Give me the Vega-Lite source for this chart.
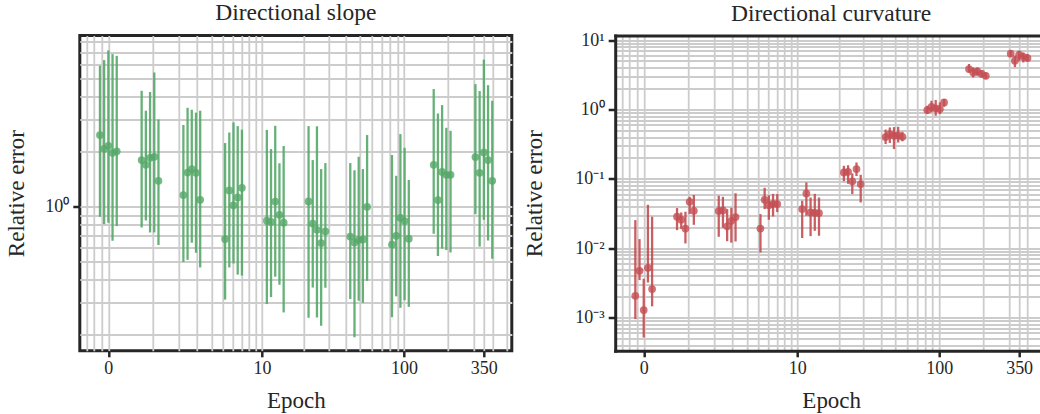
{
  "$schema": "https://vega.github.io/schema/vega-lite/v6.json",
  "background": "white",
  "padding": {"left": 3.8, "top": -1.5, "right": 0, "bottom": 0},
  "spacing": 103.4,
  "bounds": "flush",
  "datasets": {
    "epochs": [{"e": 0}, {"e": 0.918}, {"e": 2.678}, {"e": 6.054}, {"e": 12.53}, {"e": 24.95}, {"e": 48.77}, {"e": 94.44}, {"e": 182.0}, {"e": 350}],
    "slope": [
      {"e": 0, "x": -0.14, "v": 2.465, "lo": 0.882, "hi": 5.9},
      {"e": 0, "x": -0.0678, "v": 2.075, "lo": 0.804, "hi": 6.33},
      {"e": 0, "x": 0, "v": 2.155, "lo": 0.818, "hi": 7.15},
      {"e": 0, "x": 0.0678, "v": 1.972, "lo": 0.652, "hi": 6.83},
      {"e": 0, "x": 0.14, "v": 2.011, "lo": 0.784, "hi": 6.68},
      {"e": 0.918, "x": 0.682, "v": 1.8, "lo": 0.771, "hi": 4.3},
      {"e": 0.918, "x": 0.796, "v": 1.696, "lo": 0.842, "hi": 3.35},
      {"e": 0.918, "x": 0.918, "v": 1.853, "lo": 0.724, "hi": 4.24},
      {"e": 0.918, "x": 1.048, "v": 1.876, "lo": 0.724, "hi": 5.42},
      {"e": 0.918, "x": 1.187, "v": 1.387, "lo": 0.618, "hi": 3.0},
      {"e": 2.678, "x": 2.226, "v": 1.159, "lo": 0.5, "hi": 2.8},
      {"e": 2.678, "x": 2.444, "v": 1.539, "lo": 0.513, "hi": 3.475},
      {"e": 2.678, "x": 2.678, "v": 1.607, "lo": 0.636, "hi": 3.39},
      {"e": 2.678, "x": 2.927, "v": 1.534, "lo": 0.561, "hi": 3.27},
      {"e": 2.678, "x": 3.194, "v": 1.092, "lo": 0.466, "hi": 3.35},
      {"e": 6.054, "x": 5.186, "v": 0.666, "lo": 0.311, "hi": 2.23},
      {"e": 6.054, "x": 5.606, "v": 1.228, "lo": 0.466, "hi": 2.547},
      {"e": 6.054, "x": 6.054, "v": 1.019, "lo": 0.49, "hi": 2.89},
      {"e": 6.054, "x": 6.532, "v": 1.124, "lo": 0.426, "hi": 2.76},
      {"e": 6.054, "x": 7.043, "v": 1.27, "lo": 0.421, "hi": 2.64},
      {"e": 12.53, "x": 10.87, "v": 0.839, "lo": 0.294, "hi": 2.63},
      {"e": 12.53, "x": 11.67, "v": 0.826, "lo": 0.321, "hi": 2.067},
      {"e": 12.53, "x": 12.53, "v": 1.068, "lo": 0.415, "hi": 2.77},
      {"e": 12.53, "x": 13.45, "v": 0.904, "lo": 0.375, "hi": 1.729},
      {"e": 12.53, "x": 14.43, "v": 0.818, "lo": 0.2646, "hi": 2.149},
      {"e": 24.95, "x": 21.76, "v": 1.069, "lo": 0.2474, "hi": 2.76},
      {"e": 24.95, "x": 23.3, "v": 0.81, "lo": 0.362, "hi": 1.8},
      {"e": 24.95, "x": 24.95, "v": 0.749, "lo": 0.2484, "hi": 2.754},
      {"e": 24.95, "x": 26.71, "v": 0.633, "lo": 0.2237, "hi": 1.607},
      {"e": 24.95, "x": 28.59, "v": 0.735, "lo": 0.361, "hi": 1.733},
      {"e": 48.77, "x": 42.65, "v": 0.688, "lo": 0.313, "hi": 1.733},
      {"e": 48.77, "x": 45.61, "v": 0.638, "lo": 0.1936, "hi": 1.583},
      {"e": 48.77, "x": 48.77, "v": 0.66, "lo": 0.3065, "hi": 1.876},
      {"e": 48.77, "x": 52.14, "v": 0.663, "lo": 0.2988, "hi": 1.607},
      {"e": 48.77, "x": 55.75, "v": 1.0, "lo": 0.394, "hi": 2.465},
      {"e": 94.44, "x": 82.7, "v": 0.622, "lo": 0.2493, "hi": 1.919},
      {"e": 94.44, "x": 88.38, "v": 0.694, "lo": 0.324, "hi": 1.477},
      {"e": 94.44, "x": 94.44, "v": 0.871, "lo": 0.2806, "hi": 2.496},
      {"e": 94.44, "x": 100.9, "v": 0.835, "lo": 0.309, "hi": 2.101},
      {"e": 94.44, "x": 107.8, "v": 0.669, "lo": 0.284, "hi": 1.401},
      {"e": 182.0, "x": 159.5, "v": 1.696, "lo": 0.712, "hi": 4.4},
      {"e": 182.0, "x": 170.4, "v": 1.088, "lo": 0.538, "hi": 3.235},
      {"e": 182.0, "x": 182.0, "v": 1.55, "lo": 0.591, "hi": 3.594},
      {"e": 182.0, "x": 194.4, "v": 1.496, "lo": 0.58, "hi": 2.7},
      {"e": 182.0, "x": 207.7, "v": 1.496, "lo": 0.563, "hi": 2.6},
      {"e": 350, "x": 306.8, "v": 1.869, "lo": 0.912, "hi": 4.68},
      {"e": 350, "x": 327.7, "v": 1.534, "lo": 0.606, "hi": 4.29},
      {"e": 350, "x": 350, "v": 1.98, "lo": 0.849, "hi": 6.37},
      {"e": 350, "x": 373.8, "v": 1.8, "lo": 0.654, "hi": 4.62},
      {"e": 350, "x": 399.2, "v": 1.387, "lo": 0.52, "hi": 3.795}
    ],
    "curv": [
      {"e": 0, "x": -0.14, "v": 0.00206, "lo": 0.00095, "hi": 0.0254},
      {"e": 0, "x": -0.0678, "v": 0.00472, "lo": 0.00347, "hi": 0.01352},
      {"e": 0, "x": 0, "v": 0.00128, "lo": 0.000516, "hi": 0.00362},
      {"e": 0, "x": 0.0678, "v": 0.00521, "lo": 0.0032, "hi": 0.0423},
      {"e": 0, "x": 0.14, "v": 0.00257, "lo": 0.00145, "hi": 0.0284},
      {"e": 0.918, "x": 0.682, "v": 0.0284, "lo": 0.0182, "hi": 0.0379},
      {"e": 0.918, "x": 0.796, "v": 0.0257, "lo": 0.019, "hi": 0.0327},
      {"e": 0.918, "x": 0.918, "v": 0.0192, "lo": 0.0117, "hi": 0.0335},
      {"e": 0.918, "x": 1.048, "v": 0.0467, "lo": 0.031, "hi": 0.0551},
      {"e": 0.918, "x": 1.187, "v": 0.0346, "lo": 0.0217, "hi": 0.0585},
      {"e": 2.678, "x": 2.226, "v": 0.0343, "lo": 0.0146, "hi": 0.057},
      {"e": 2.678, "x": 2.444, "v": 0.035, "lo": 0.0197, "hi": 0.0551},
      {"e": 2.678, "x": 2.678, "v": 0.0207, "lo": 0.0126, "hi": 0.0366},
      {"e": 2.678, "x": 2.927, "v": 0.0248, "lo": 0.012, "hi": 0.0383},
      {"e": 2.678, "x": 3.194, "v": 0.0281, "lo": 0.0125, "hi": 0.0619},
      {"e": 6.054, "x": 5.186, "v": 0.0192, "lo": 0.00867, "hi": 0.031},
      {"e": 6.054, "x": 5.606, "v": 0.0499, "lo": 0.0366, "hi": 0.0743},
      {"e": 6.054, "x": 6.054, "v": 0.0416, "lo": 0.0257, "hi": 0.0579},
      {"e": 6.054, "x": 6.532, "v": 0.0437, "lo": 0.0286, "hi": 0.0608},
      {"e": 6.054, "x": 7.043, "v": 0.0432, "lo": 0.0332, "hi": 0.0603},
      {"e": 12.53, "x": 10.87, "v": 0.0366, "lo": 0.014, "hi": 0.0482},
      {"e": 12.53, "x": 11.67, "v": 0.0615, "lo": 0.0293, "hi": 0.0886},
      {"e": 12.53, "x": 12.53, "v": 0.0327, "lo": 0.0149, "hi": 0.0538},
      {"e": 12.53, "x": 13.45, "v": 0.0322, "lo": 0.0178, "hi": 0.0608},
      {"e": 12.53, "x": 14.43, "v": 0.0321, "lo": 0.0151, "hi": 0.0538},
      {"e": 24.95, "x": 21.76, "v": 0.1235, "lo": 0.0922, "hi": 0.154},
      {"e": 24.95, "x": 23.3, "v": 0.1264, "lo": 0.0848, "hi": 0.157},
      {"e": 24.95, "x": 24.95, "v": 0.0922, "lo": 0.0603, "hi": 0.12},
      {"e": 24.95, "x": 26.71, "v": 0.138, "lo": 0.1096, "hi": 0.172},
      {"e": 24.95, "x": 28.59, "v": 0.084, "lo": 0.0456, "hi": 0.1144},
      {"e": 48.77, "x": 42.65, "v": 0.4, "lo": 0.317, "hi": 0.513},
      {"e": 48.77, "x": 45.61, "v": 0.442, "lo": 0.329, "hi": 0.55},
      {"e": 48.77, "x": 48.77, "v": 0.418, "lo": 0.2685, "hi": 0.557},
      {"e": 48.77, "x": 52.14, "v": 0.422, "lo": 0.334, "hi": 0.563},
      {"e": 48.77, "x": 55.75, "v": 0.404, "lo": 0.348, "hi": 0.477},
      {"e": 94.44, "x": 82.7, "v": 0.98, "lo": 0.859, "hi": 1.13},
      {"e": 94.44, "x": 88.38, "v": 1.094, "lo": 0.905, "hi": 1.335},
      {"e": 94.44, "x": 94.44, "v": 1.04, "lo": 0.811, "hi": 1.366},
      {"e": 94.44, "x": 100.9, "v": 1.013, "lo": 0.859, "hi": 1.262},
      {"e": 94.44, "x": 107.8, "v": 1.262, "lo": 1.094, "hi": 1.413},
      {"e": 182.0, "x": 159.5, "v": 3.82, "lo": 3.42, "hi": 4.52},
      {"e": 182.0, "x": 170.4, "v": 3.42, "lo": 2.89, "hi": 4.03},
      {"e": 182.0, "x": 182.0, "v": 3.53, "lo": 3.06, "hi": 4.03},
      {"e": 182.0, "x": 194.4, "v": 3.27, "lo": 2.89, "hi": 3.7},
      {"e": 182.0, "x": 207.7, "v": 3.06, "lo": 2.74, "hi": 3.42},
      {"e": 350, "x": 306.8, "v": 6.36, "lo": 5.7, "hi": 7.19},
      {"e": 350, "x": 327.7, "v": 5.04, "lo": 4.08, "hi": 5.95},
      {"e": 350, "x": 350, "v": 6.15, "lo": 4.95, "hi": 7.02},
      {"e": 350, "x": 373.8, "v": 5.75, "lo": 4.76, "hi": 6.64},
      {"e": 350, "x": 399.2, "v": 5.51, "lo": 4.92, "hi": 6.29}
    ]
  },
  "hconcat": [
    {
      "width": 432,
      "height": 315.3,
      "title": {"text": "Directional slope", "offset": 8.5},
      "resolve": {"axis": {"x": "independent", "y": "independent"}},
      "layer": [
        {
          "data": {"name": "epochs"},
          "mark": {"type": "rule", "color": "#4d4d4d", "strokeDash": [4, 2.5], "strokeWidth": 1.2, "opacity": 0.75},
          "encoding": {
            "x": {
              "field": "e", "type": "quantitative",
              "scale": {"type": "symlog", "domain": [-0.561, 542], "nice": false, "zero": false},
              "axis": {
                "title": "Epoch",
                "values": [-0.395, -0.245, -0.11, 0, 1, 2, 3, 4, 5, 6, 7, 8, 9, 10, 20, 30, 40, 50, 60, 70, 80, 90, 100, 200, 300, 350, 400, 500],
                "grid": true,
                "labelExpr": "(datum.value == 0 || datum.value == 10 || datum.value == 100 || datum.value == 350) ? datum.value + '' : ''",
                "tickOpacity": {"condition": {"test": "datum.value == 0 || datum.value == 10 || datum.value == 100 || datum.value == 350", "value": 1}, "value": 0},
                "labelOverlap": false,
                "labelFlush": false,
                "labelPadding": 3,
                "titlePadding": 12
              }
            },
            "y": {"datum": 1, "type": "quantitative",
              "scale": {"type": "log", "domain": [0.1633, 8.63], "nice": false},
              "axis": {
                "title": "Relative error",
                "values": [0.2, 0.3, 0.4, 0.5, 0.6, 0.7, 0.8, 0.9, 1, 2, 3, 4, 5, 6, 7, 8],
                "grid": true,
                "labelExpr": "datum.value == 1 ? '10⁰' : ''",
                "tickOpacity": {"condition": {"test": "datum.value == 1", "value": 1}, "value": 0},
                "labelOverlap": false,
                "labelPadding": 4,
                "tickSize": 7,
                "titlePadding": 16
              }
            },
            "y2": {"datum": 1}
          }
        },
        {
          "data": {"name": "slope"},
          "mark": {"type": "rule", "color": "#55a868", "strokeWidth": 2.3, "opacity": 0.9},
          "encoding": {
            "x": {"field": "x", "type": "quantitative", "axis": null},
            "y": {"field": "lo", "type": "quantitative", "axis": null},
            "y2": {"field": "hi"}
          }
        },
        {
          "data": {"name": "slope"},
          "mark": {"type": "circle", "color": "#55a868", "size": 60, "opacity": 0.8},
          "encoding": {
            "x": {"field": "x", "type": "quantitative", "axis": null},
            "y": {"field": "v", "type": "quantitative", "axis": null}
          }
        }
      ]
    },
    {
      "width": 425.8,
      "height": 315.3,
      "title": {"text": "Directional curvature", "dx": 3, "offset": 5.5},
      "view": {"stroke": null},
      "resolve": {"axis": {"x": "independent", "y": "independent"}},
      "layer": [
        {
          "data": {"name": "epochs"},
          "mark": {"type": "rule", "color": "#4d4d4d", "strokeDash": [4, 2.5], "strokeWidth": 1.2, "opacity": 0.75},
          "encoding": {
            "x": {
              "field": "e", "type": "quantitative",
              "scale": {"type": "symlog", "domain": [-0.561, 492.9], "nice": false, "zero": false},
              "axis": {
                "title": "Epoch",
                "titleX": 216,
                "values": [-0.395, -0.245, -0.11, 0, 1, 2, 3, 4, 5, 6, 7, 8, 9, 10, 20, 30, 40, 50, 60, 70, 80, 90, 100, 200, 300, 350, 400],
                "grid": true,
                "labelExpr": "(datum.value == 0 || datum.value == 10 || datum.value == 100 || datum.value == 350) ? datum.value + '' : ''",
                "tickOpacity": {"condition": {"test": "datum.value == 0 || datum.value == 10 || datum.value == 100 || datum.value == 350", "value": 1}, "value": 0},
                "labelOverlap": false,
                "labelFlush": false,
                "labelPadding": 3,
                "titlePadding": 12,
                "domain": true,
                "domainColor": "#262626",
                "domainWidth": 3,
                "domainCap": "square"
              }
            },
            "y": {"datum": 1, "type": "quantitative",
              "scale": {"type": "log", "domain": [0.0003315, 11.65], "nice": false},
              "axis": {
                "title": "Relative error",
                "values": [0.0004, 0.0005, 0.0006, 0.0007, 0.0008, 0.0009, 0.001, 0.002, 0.003, 0.004, 0.005, 0.006, 0.007, 0.008, 0.009, 0.01, 0.02, 0.03, 0.04, 0.05, 0.06, 0.07, 0.08, 0.09, 0.1, 0.2, 0.3, 0.4, 0.5, 0.6, 0.7, 0.8, 0.9, 1, 2, 3, 4, 5, 6, 7, 8, 9, 10],
                "grid": true,
                "labelExpr": "datum.value == 10 ? '10¹' : datum.value == 1 ? '10⁰' : datum.value == 0.1 ? '10⁻¹' : datum.value == 0.01 ? '10⁻²' : datum.value == 0.001 ? '10⁻³' : ''",
                "tickOpacity": {"condition": {"test": "datum.value == 10 || datum.value == 1 || datum.value == 0.1 || datum.value == 0.01 || datum.value == 0.001", "value": 1}, "value": 0},
                "labelOverlap": false,
                "labelPadding": 4,
                "tickSize": 7,
                "titlePadding": 28,
                "domain": true,
                "domainColor": "#262626",
                "domainWidth": 3,
                "domainCap": "square"
              }
            },
            "y2": {"datum": 1}
          }
        },
        {
          "data": {"name": "curv"},
          "mark": {"type": "rule", "color": "#c44e52", "strokeWidth": 2.3, "opacity": 0.9},
          "encoding": {
            "x": {"field": "x", "type": "quantitative",
              "axis": {"orient": "top", "grid": false, "ticks": false, "labels": false, "title": null, "domain": true, "domainColor": "#262626", "domainWidth": 3, "domainCap": "square"}},
            "y": {"field": "lo", "type": "quantitative", "axis": null},
            "y2": {"field": "hi"}
          }
        },
        {
          "data": {"name": "curv"},
          "mark": {"type": "circle", "color": "#c44e52", "size": 60, "opacity": 0.8},
          "encoding": {
            "x": {"field": "x", "type": "quantitative", "axis": null},
            "y": {"field": "v", "type": "quantitative", "axis": null}
          }
        }
      ]
    }
  ],
  "config": {
    "font": "Liberation Serif",
    "view": {"stroke": "#262626", "strokeWidth": 3},
    "axis": {
      "domain": false,
      "gridColor": "#cccccc",
      "gridWidth": 1.8,
      "labelFont": "Liberation Serif",
      "labelFontSize": 18,
      "labelColor": "#262626",
      "titleFont": "Liberation Serif",
      "titleFontSize": 23,
      "titleFontWeight": "normal",
      "titleColor": "#262626",
      "tickColor": "#262626",
      "tickWidth": 2.5,
      "tickSize": 6
    },
    "title": {"font": "Liberation Serif", "fontSize": 23.5, "fontWeight": "normal", "color": "#262626", "baseline": "alphabetic"}
  }
}
